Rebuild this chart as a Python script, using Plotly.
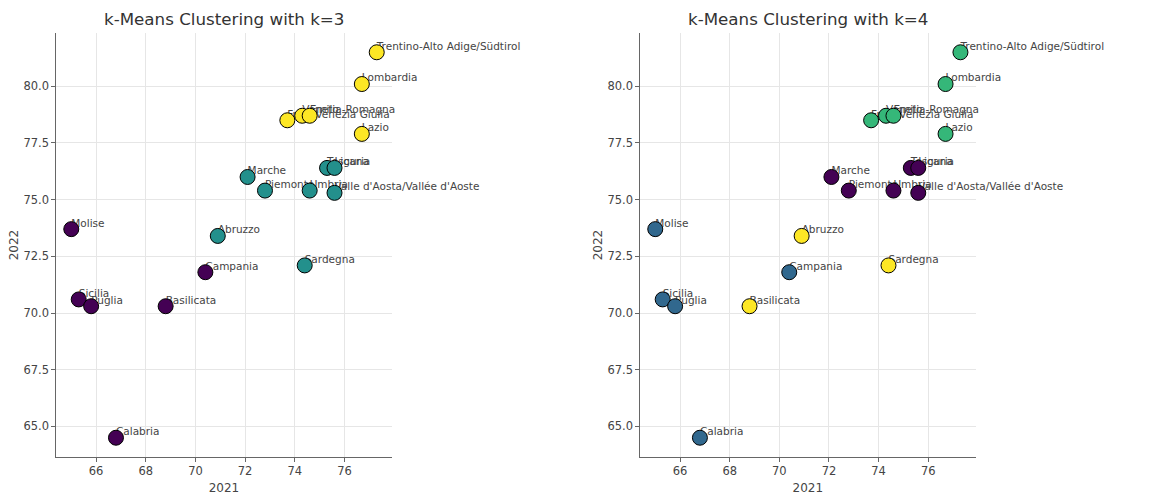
import plotly.graph_objects as go

# Regional values for 2021 (x) and 2022 (y)
regions = [
    "Trentino-Alto Adige/Südtirol", "Lombardia", "Lazio",
    "Friuli-Venezia Giulia", "Veneto", "Emilia-Romagna",
    "Toscana", "Liguria", "Marche", "Piemonte", "Umbria",
    "Valle d'Aosta/Vallée d'Aoste", "Molise", "Abruzzo", "Sardegna",
    "Campania", "Sicilia", "Puglia", "Basilicata", "Calabria",
]
x2021 = [77.3, 76.7, 76.7, 73.7, 74.3, 74.6, 75.3, 75.6, 72.1, 72.8, 74.6,
         75.6, 65.0, 70.9, 74.4, 70.4, 65.3, 65.8, 68.8, 66.8]
y2022 = [81.5, 80.1, 77.9, 78.5, 78.7, 78.7, 76.4, 76.4, 76.0, 75.4, 75.4,
         75.3, 73.7, 73.4, 72.1, 71.8, 70.6, 70.3, 70.3, 64.5]

# Cluster assignments for k=3 and k=4
clusters_k3 = [2, 2, 2, 2, 2, 2, 1, 1, 1, 1, 1, 1, 0, 1, 1, 0, 0, 0, 0, 0]
clusters_k4 = [2, 2, 2, 2, 2, 2, 0, 0, 0, 0, 0, 0, 1, 3, 3, 1, 1, 1, 3, 1]

panels = [(3, clusters_k3), (4, clusters_k4)]

W, H = 1170, 495
FONT = "DejaVu Sans"

# Axes boxes in pixels: (left, right) per panel, shared top/bottom
boxes_x = [(56, 392), (640, 975.7)]
box_top, box_bottom = 33, 457


def padded(vals, frac=0.05):
    lo, hi = min(vals), max(vals)
    pad = (hi - lo) * frac
    return [lo - pad, hi + pad]


xr = padded(x2021)
yr = padded(y2022)

fig = go.Figure()

for i, (k, labels) in enumerate(panels):
    xa = "x" if i == 0 else f"x{i + 1}"
    ya = "y" if i == 0 else f"y{i + 1}"
    # region names first, so the markers sit on top of them
    fig.add_trace(go.Scatter(
        x=x2021, y=y2022, text=regions, mode="text",
        textposition="top right", cliponaxis=False,
        textfont=dict(family=FONT, size=10.5, color="#444444"),
        xaxis=xa, yaxis=ya, hoverinfo="skip", showlegend=False,
    ))
    fig.add_trace(go.Scatter(
        x=x2021, y=y2022, mode="markers", cliponaxis=False,
        marker=dict(
            size=15, color=labels, colorscale="Viridis",
            cmin=0, cmax=k - 1,
            line=dict(color="black", width=1),
        ),
        xaxis=xa, yaxis=ya, text=regions, showlegend=False,
    ))

axis_common = dict(
    showgrid=True, gridcolor="#e6e6e6", gridwidth=1,
    zeroline=False, showline=True, linecolor="#666666", linewidth=1.3,
    ticks="outside", ticklen=3.5, tickcolor="#666666", tickwidth=1,
    tickfont=dict(family=FONT, size=11.5, color="#444444"),
    mirror=False,
)

layout = dict(
    width=W, height=H,
    margin=dict(l=0, r=0, t=0, b=0),
    paper_bgcolor="white", plot_bgcolor="white",
    showlegend=False,
    annotations=[],
)

for i, (k, _) in enumerate(panels):
    sfx = "" if i == 0 else str(i + 1)
    left, right = boxes_x[i]
    layout[f"xaxis{sfx}"] = dict(
        axis_common,
        domain=[left / W, right / W], range=xr,
        tick0=0, dtick=2, anchor=f"y{sfx}",
        title=dict(text="2021", font=dict(family=FONT, size=12, color="#444444"),
                   standoff=6),
    )
    layout[f"yaxis{sfx}"] = dict(
        axis_common,
        domain=[1 - box_bottom / H, 1 - box_top / H], range=yr,
        tick0=0, dtick=2.5, tickformat=".1f", anchor=f"x{sfx}",
        title=dict(text="2022", font=dict(family=FONT, size=12, color="#444444"),
                   standoff=2),
    )
    layout["annotations"].append(dict(
        text=f"k-Means Clustering with k={k}",
        x=(left + right) / 2 / W, y=1 - 19 / H,
        xref="paper", yref="paper", xanchor="center", yanchor="middle",
        showarrow=False,
        font=dict(family=FONT, size=16.7, color="#333333"),
    ))

fig.update_layout(**layout)
fig.write_html("out.html")
